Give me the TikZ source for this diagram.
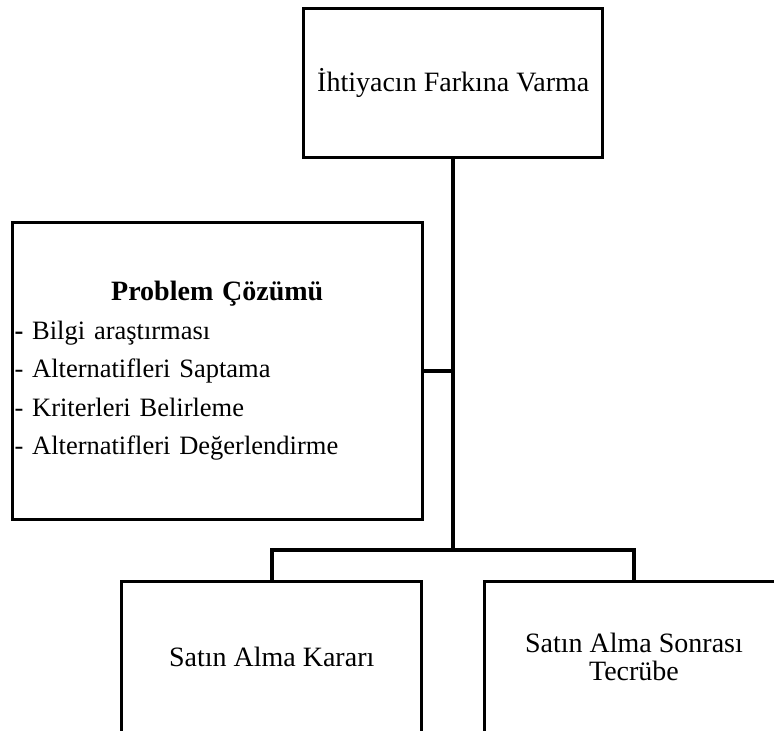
\documentclass[tikz,border=0pt]{standalone}
\usepackage{fontspec}
\setmainfont{Liberation Serif}
\begin{document}
\begin{tikzpicture}[x=1pt,y=-1pt,
  box/.style={draw, line width=3pt, minimum width=300pt, minimum height=150pt,
    inner sep=0pt, align=center, font=\fontsize{28}{27.5}\selectfont},
  conn/.style={line width=3.7pt}]
\useasboundingbox (0,0) rectangle (774,731);
\fill[white] (0,0) rectangle (774,731);
\clip (0,0) rectangle (774,731);

% stage boxes
\node[box, minimum width=299pt, minimum height=149pt] (need) at (453.3,83)
  {İhtiyacın Farkına Varma};
\node[box, minimum width=409.5pt, minimum height=296.5pt, text width=405.5pt,
  inner xsep=2pt, align=left, font=\fontsize{26.5}{38.5}\selectfont] (prob) at (217.25,370.75)
  {\makebox[405.5pt]{\fontsize{28}{38.5}\selectfont\textbf{Problem Çözümü}}\\
   \textbf{-} Bilgi araştırması\\
   - Alternatifleri Saptama\\
   - Kriterleri Belirleme\\
   - Alternatifleri Değerlendirme};
\node[box, minimum height=152pt] (buy) at (271.7,657) {Satın Alma Kararı};
\node[box, minimum height=152pt] (post) at (634,657) {Satın Alma Sonrası\\Tecrübe};

% connectors
\coordinate (lvl) at (0,550);
\coordinate (j) at (need.south |- lvl);
\draw[conn] (need.south) -- (j);
\draw[conn] (buy.north) |- (j) -| (post.north);
\draw[conn] (prob.east) -- (prob.east -| need.south);
\end{tikzpicture}
\end{document}
